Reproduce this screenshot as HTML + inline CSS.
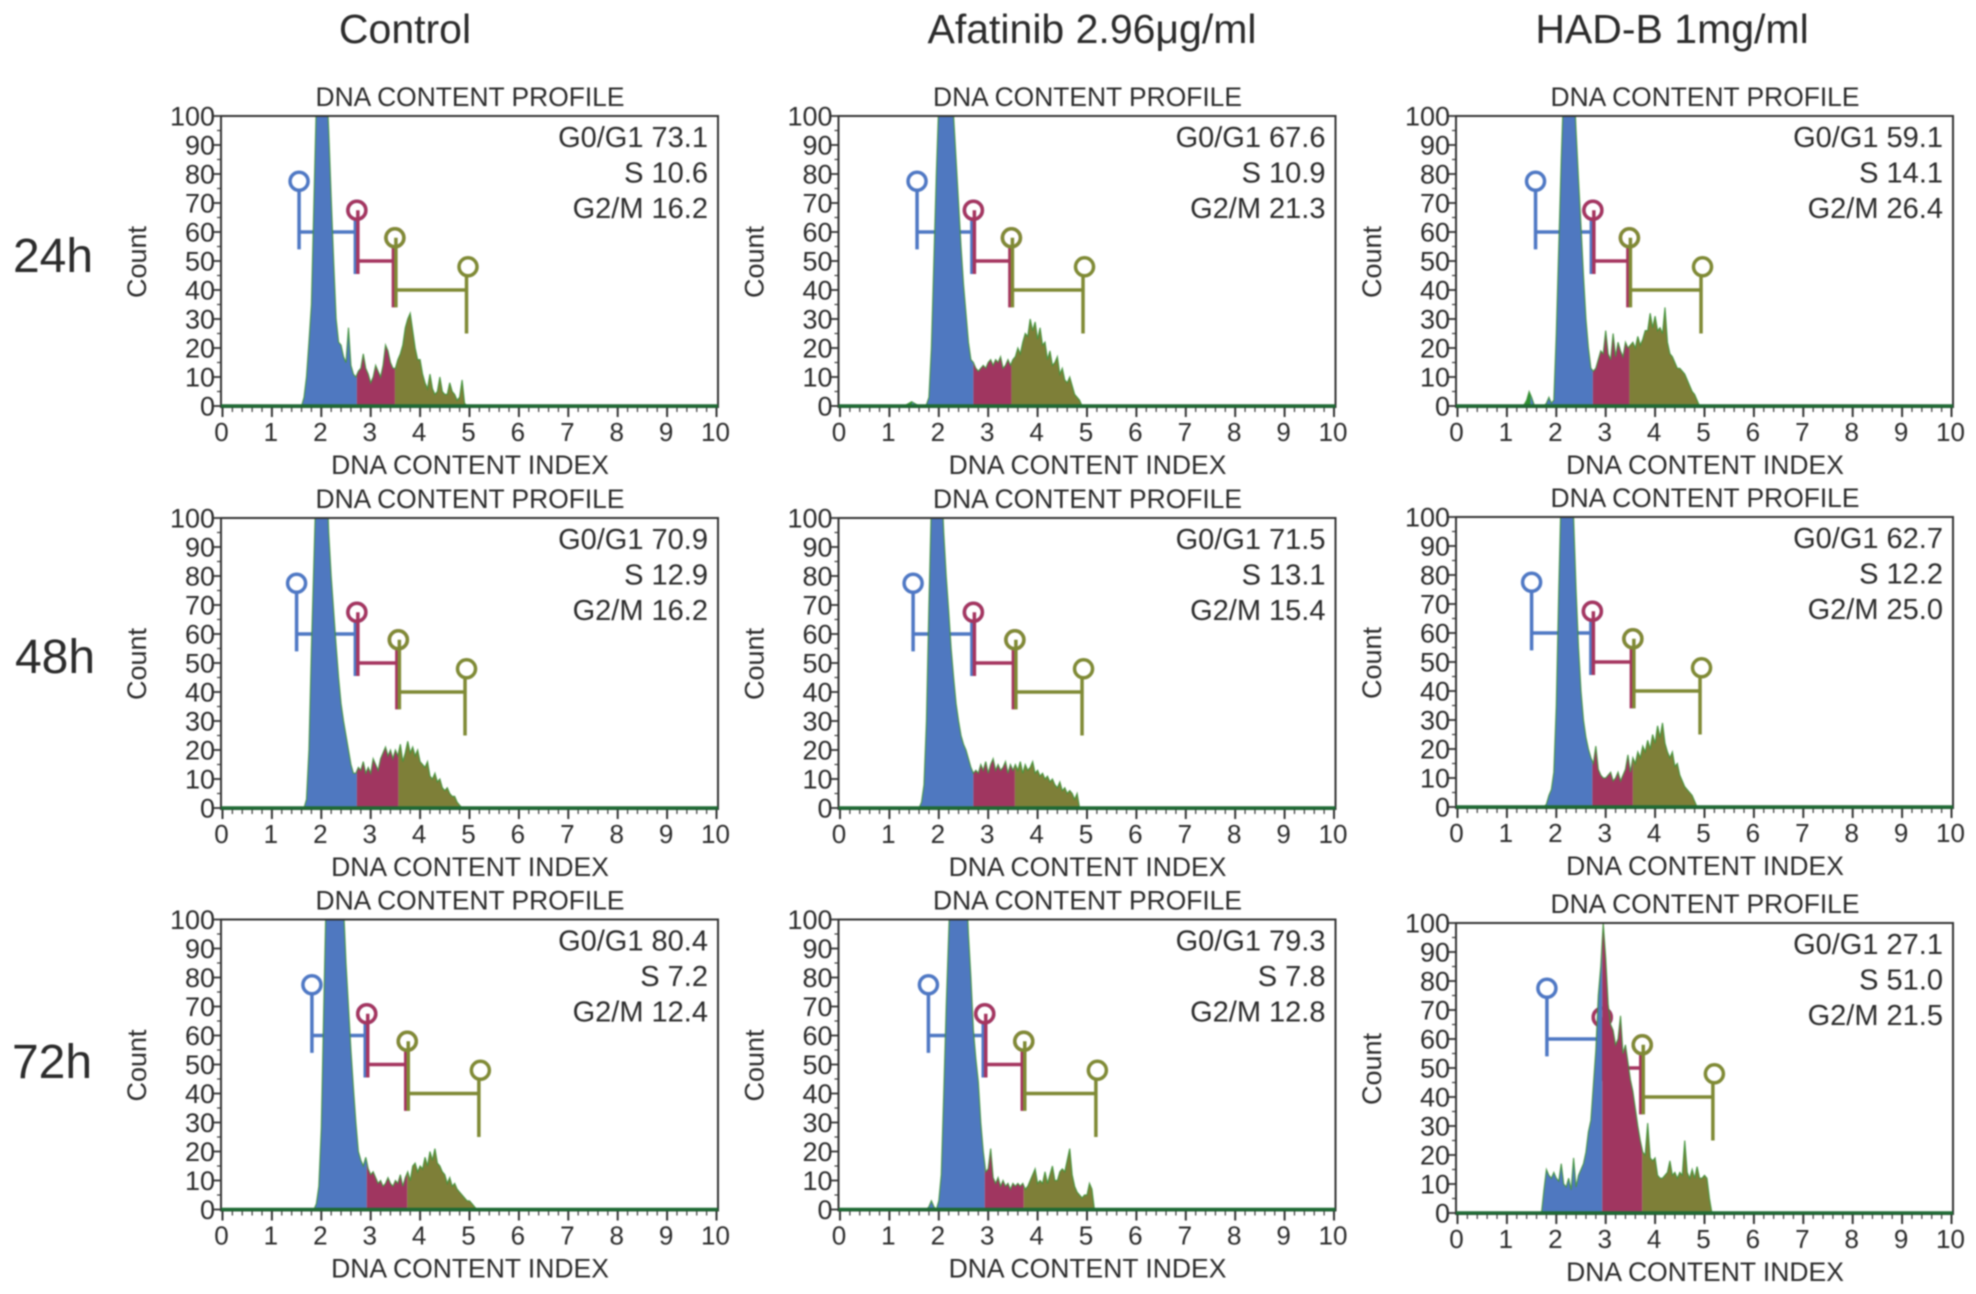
<!DOCTYPE html>
<html lang="en">
<head>
<meta charset="utf-8">
<title>DNA content profiles</title>
<style>
html,body{margin:0;padding:0;background:#fff;width:1976px;height:1294px;overflow:hidden}
svg{display:block;filter:blur(0.7px)}
text{font-family:"Liberation Sans",Arial,sans-serif;fill:#2b2b2b}
</style>
</head>
<body>
<svg id="chart" xmlns="http://www.w3.org/2000/svg" width="1976" height="1294" viewBox="0 0 1976 1294">
<rect width="1976" height="1294" fill="#fff"/>
<text x="405" y="43" font-size="41" text-anchor="middle">Control</text>
<text x="1092" y="43" font-size="41" text-anchor="middle">Afatinib 2.96μg/ml</text>
<text x="1672" y="43" font-size="41" text-anchor="middle">HAD-B 1mg/ml</text>
<text x="53" y="272" font-size="48" text-anchor="middle">24h</text>
<text x="55" y="673" font-size="48" text-anchor="middle">48h</text>
<text x="52" y="1078" font-size="48" text-anchor="middle">72h</text>
</svg>
<script>
// Axis ticks
const xTickLabels = [0,1,2,3,4,5,6,7,8,9,10];
const yTickLabels = [0,10,20,30,40,50,60,70,80,90,100];
const binStep = 0.05;

// Panel names
const panelNames = ['control-24h','afatinib-24h','hadb-24h','control-48h','afatinib-48h','hadb-48h','control-72h','afatinib-72h','hadb-72h'];

// Printed phase percentages [G0/G1, S, G2/M]
const statsControl24 = ['73.1','10.6','16.2'];
const statsAfatinib24 = ['67.6','10.9','21.3'];
const statsHadb24 = ['59.1','14.1','26.4'];
const statsControl48 = ['70.9','12.9','16.2'];
const statsAfatinib48 = ['71.5','13.1','15.4'];
const statsHadb48 = ['62.7','12.2','25.0'];
const statsControl72 = ['80.4','7.2','12.4'];
const statsAfatinib72 = ['79.3','7.8','12.8'];
const statsHadb72 = ['27.1','51.0','21.5'];

// Gate boundaries on the DNA index axis
const gatesControl24 = [1.55,2.72,3.49,4.97];
const gatesAfatinib24 = [1.56,2.7,3.47,4.95];
const gatesHadb24 = [1.58,2.74,3.48,4.96];
const gatesControl48 = [1.5,2.72,3.56,4.94];
const gatesAfatinib48 = [1.48,2.7,3.54,4.93];
const gatesHadb48 = [1.5,2.73,3.55,4.94];
const gatesControl72 = [1.81,2.92,3.74,5.22];
const gatesAfatinib72 = [1.79,2.93,3.72,5.21];
const gatesHadb72 = [1.81,2.93,3.74,5.2];

// First bin of each histogram
const startControl24 = 1.6;
const startAfatinib24 = 1.3;
const startHadb24 = 1.3;
const startControl48 = 1.65;
const startAfatinib48 = 1.6;
const startHadb48 = 1.75;
const startControl72 = 1.85;
const startAfatinib72 = 1.75;
const startHadb72 = 1.7;

// Histogram counts, one per bin (peaks run off the 100 scale)
const countsControl24 = [0,3,10,22,35,70,105,130,130,130,115,95,72,50,30,22,21,17,15,27,14,11,10,12,13,18,13,11,8,10,14,12,10,14,21,19,15,13,13,16,18,21,27,30,32,26,20,16,16,11,8,6,11,6,4,5,10,5,4,4,8,5,4,2,3,9,1,0];
const countsAfatinib24 = [0,0.5,1,1.5,1,0.5,0,0,0,0.5,3,20,50,80,105,130,130,130,130,130,100,85,70,55,42,32,22,16,15,13,12,13,14,13,15,16,14,16,15,17,13,14,16,14,16,17,20,18,22,25,24,30,26,29,23,27,21,22,16,19,14,15,17,11,13,9,8,10,7,4,3,2,0];
const countsHadb24 = [0,0.5,2,5,3,0.5,0,0,0,0,1,3,1,2,25,55,85,110,130,130,130,115,95,78,62,45,30,20,13,12,13,16,19,18,26,18,16,25,17,22,19,17,22,20,21,22,20,24,21,23,26,26,32,27,31,26,27,25,34,22,18,17,15,13,13,12,11,9,7,5,4,2,0];
const countsControl48 = [0,3,20,55,85,115,130,130,130,120,95,80,68,56,45,36,30,25,20,15,12,12,14,13,16,12,14,12,17,15,13,17,19,21,18,20,17,20,18,22,16,19,23,19,21,18,20,16,15,14,16,11,10,12,9,10,7,6,7,5,4,4,2,1,0];
const countsAfatinib48 = [0,2,8,30,70,105,130,130,130,115,95,80,68,55,45,36,30,25,22,20,17,14,12,13,12,15,13,16,12,15,17,13,15,13,14,16,12,15,13,15,13,16,12,15,13,14,16,12,13,11,12,10,11,9,10,8,7,9,6,7,5,6,5,3,5,0];
const countsHadb48 = [0,1,4,6,12,35,75,110,130,130,130,125,100,75,55,40,30,24,20,17,15,21,13,11,10,10,11,12,9,10,12,9,11,13,18,12,17,15,19,17,21,19,23,20,25,22,28,24,29,22,19,17,19,14,15,11,9,7,6,5,4,2,0];
const countsControl72 = [0,2,8,28,70,110,130,130,130,130,130,130,105,85,70,55,42,30,20,17,15,18,14,12,13,11,9,10,8,9,11,9,8,10,9,12,8,11,13,10,15,16,13,15,14,18,15,20,17,21,16,15,13,12,9,11,8,9,7,6,5,4,3,3,2,1,0];
const countsAfatinib72 = [0,1,3,1,0,3,12,40,70,95,120,130,130,130,130,130,115,95,80,62,52,44,30,20,13,14,21,11,9,11,8,10,8,9,7,9,8,9,8,9,7,8,10,12,14,9,10,9,13,9,12,15,10,10,13,14,13,17,21,12,8,6,5,4,5,5,9,7,0];
const countsHadb72 = [0,8,15,13,12,14,12,11,17,10,9,12,8,19,9,13,15,17,21,28,32,44,56,75,85,100,88,72,65,63,58,60,68,55,58,52,46,42,36,30,25,21,20,31,19,18,19,13,12,12,13,14,18,13,14,12,14,13,25,14,12,15,12,16,12,12,13,12,5,0];

// Which arrays feed each panel
const panelCounts = [countsControl24,countsAfatinib24,countsHadb24,countsControl48,countsAfatinib48,countsHadb48,countsControl72,countsAfatinib72,countsHadb72];
const panelStarts = [startControl24,startAfatinib24,startHadb24,startControl48,startAfatinib48,startHadb48,startControl72,startAfatinib72,startHadb72];
const panelGates = [gatesControl24,gatesAfatinib24,gatesHadb24,gatesControl48,gatesAfatinib48,gatesHadb48,gatesControl72,gatesAfatinib72,gatesHadb72];
const panelStats = [statsControl24,statsAfatinib24,statsHadb24,statsControl48,statsAfatinib48,statsHadb48,statsControl72,statsAfatinib72,statsHadb72];

const NS = 'http://www.w3.org/2000/svg';
const svg = document.getElementById('chart');
const columnLeft = [221,838.5,1456];
const plotWidth = 497;
const plotHeight = 290;
const panelTop = [116,116,116,518,518,517,919.5,919.5,923];

function make(tag, parent, attrs, text){
  const node = document.createElementNS(NS, tag);
  for (const k in attrs) node.setAttribute(k, attrs[k]);
  if (text !== undefined) node.textContent = text;
  parent.appendChild(node);
  return node;
}

panelNames.forEach(function(name, p){
  const L = columnLeft[p % 3];
  const T = panelTop[p];
  const B = T + plotHeight;
  const R = L + plotWidth;
  const xAxis = function(v){ return L + 1.5 + v * (plotWidth - 3) / 10; };
  const yAxis = function(v){ return B - v * plotHeight / 100; };
  const counts = panelCounts[p];
  const start = panelStarts[p];
  const gates = panelGates[p];
  const stats = panelStats[p];

  const g = make('g', svg, {});
  
  

  const clipId = 'clip' + p;
  const defs = make('defs', g, {});
  const clip = make('clipPath', defs, {id: clipId});
  make('rect', clip, {x: L, y: T, width: plotWidth, height: plotHeight + 4});

  const title = make('text', g, {x: L + 249, y: T - 10, 'font-size': 26.4, 'text-anchor': 'middle'}, 'DNA CONTENT PROFILE');
  
  

  const xTitle = make('text', g, {x: L + 249, y: B + 68, 'font-size': 26.5, 'text-anchor': 'middle'}, 'DNA CONTENT INDEX');
  
  

  const cy = T + 146;
  const cx = L - 75;
  const yTitle = make('text', g, {x: cx, y: cy, 'font-size': 27, 'text-anchor': 'middle', transform: 'rotate(-90 ' + cx + ' ' + cy + ')'}, 'Count');
  
  

  const plotBg = make('rect', g, {x: L, y: T, width: plotWidth, height: plotHeight, fill: '#fff'});
  
  

  // gates drawn beneath the histogram
  const gateColors = ['#4f78c4', '#a5355f', '#7f8a35'];
  const barLevels = [60, 50, 40];
  const circleLevels = [77.5, 67.5, 58, 48];
  const stemBottoms = [54, 45.5, 34, 25];
  const gateGroup = make('g', g, {fill: 'none', 'stroke-width': 3.5});
  
  
  gateColors.forEach(function(col, i){
    make('line', gateGroup, {x1: xAxis(gates[i]), x2: xAxis(gates[i + 1]), y1: yAxis(barLevels[i]), y2: yAxis(barLevels[i]), stroke: col});
    make('line', gateGroup, {x1: xAxis(gates[i + 1]) - 1.5, x2: xAxis(gates[i + 1]) - 1.5, y1: yAxis(circleLevels[i + 1]), y2: yAxis(stemBottoms[i + 1]), stroke: col});
    make('circle', gateGroup, {cx: xAxis(gates[i + 1]), cy: yAxis(circleLevels[i + 1]), r: 9, stroke: col, fill: '#fff'});
  });
  gateColors.forEach(function(col, i){
    const off = i === 0 ? 0 : 1;
    make('line', gateGroup, {x1: xAxis(gates[i]) + off, x2: xAxis(gates[i]) + off, y1: yAxis(circleLevels[i]), y2: yAxis(stemBottoms[i]), stroke: col});
    make('circle', gateGroup, {cx: xAxis(gates[i]), cy: yAxis(circleLevels[i]), r: 9, stroke: col, fill: i === 0 ? '#fff' : 'none'});
  });

  // histogram regions
  const valueAt = function(v){
    const f = (v - start) / binStep;
    if (f <= 0) return counts[0];
    if (f >= counts.length - 1) return counts[counts.length - 1];
    const i = Math.floor(f);
    return counts[i] + (counts[i + 1] - counts[i]) * (f - i);
  };
  const end = start + (counts.length - 1) * binStep;
  const histGroup = make('g', g, {'clip-path': 'url(#' + clipId + ')'});
  
  
  const edges = [start, gates[0] - 0.1, gates[1], gates[2], gates[3] + 0.3, Math.max(end, gates[3] + 0.3)];
  const regionFill = ['#2f9132', '#4f78c0', '#a03660', '#7e7f38', '#7e7f38'];
  regionFill.forEach(function(col, r){
    const a = Math.max(edges[r], start);
    const b = Math.min(edges[r + 1], end);
    if (b <= a) return;
    let d = 'M' + xAxis(a) + ' ' + yAxis(0) + 'L' + xAxis(a) + ' ' + yAxis(valueAt(a));
    counts.forEach(function(c, i){
      const v = start + i * binStep;
      if (v > a && v < b) d += 'L' + xAxis(v) + ' ' + yAxis(c);
    });
    d += 'L' + xAxis(b) + ' ' + yAxis(valueAt(b)) + 'L' + xAxis(b) + ' ' + yAxis(0) + 'Z';
    make('path', histGroup, {d: d, fill: col});
  });
  let outline = '';
  counts.forEach(function(c, i){
    outline += (i ? 'L' : 'M') + xAxis(start + i * binStep) + ' ' + yAxis(c);
  });
  const outlinePath = make('path', histGroup, {d: outline, fill: 'none', stroke: '#3c9036', 'stroke-width': 1.2, 'stroke-opacity': 0.85});
  
  

  const frame = make('rect', g, {x: L, y: T, width: plotWidth, height: plotHeight + 1, fill: 'none', stroke: '#333', 'stroke-width': 2});
  
  

  const base = make('line', g, {x1: L, x2: R, y1: B, y2: B, stroke: '#1f6a34', 'stroke-width': 3.5});
  
  

  // axes
  const xAxisGroup = make('g', g, {stroke: '#333', 'stroke-width': 1.4});
  
  
  for (let m = 0; m <= 50; m++) {
    const major = m % 5 === 0;
    make('line', xAxisGroup, {x1: xAxis(m / 5), x2: xAxis(m / 5), y1: B + 2, y2: B + (major ? 11 : 6), 'stroke-width': major ? 2 : 1.2});
  }
  xTickLabels.forEach(function(t){
    const lab = make('text', g, {x: xAxis(t) - 1, y: B + 35, 'font-size': 26, 'text-anchor': 'middle'}, String(t));
    
    
  });
  const yAxisGroup = make('g', g, {stroke: '#333', 'stroke-width': 1.4});
  
  
  for (let m = 0; m <= 20; m++) {
    const major = m % 2 === 0;
    make('line', yAxisGroup, {x1: L - (major ? 7 : 4), x2: L, y1: yAxis(m * 5), y2: yAxis(m * 5), 'stroke-width': major ? 1.8 : 1.2});
  }
  yTickLabels.forEach(function(t){
    const lab = make('text', g, {x: L - 6, y: yAxis(t) + 9.5, 'font-size': 27, 'text-anchor': 'end'}, String(t));
    
    
  });

  // printed phase values
  const phases = ['G0/G1', 'S', 'G2/M'];
  phases.forEach(function(ph, i){
    const st = make('text', g, {x: R - 10, y: T + 31 + i * 35.5, 'font-size': 29, 'text-anchor': 'end'}, ph + ' ' + stats[i]);
    
    
  });
});
</script>
</body>
</html>
